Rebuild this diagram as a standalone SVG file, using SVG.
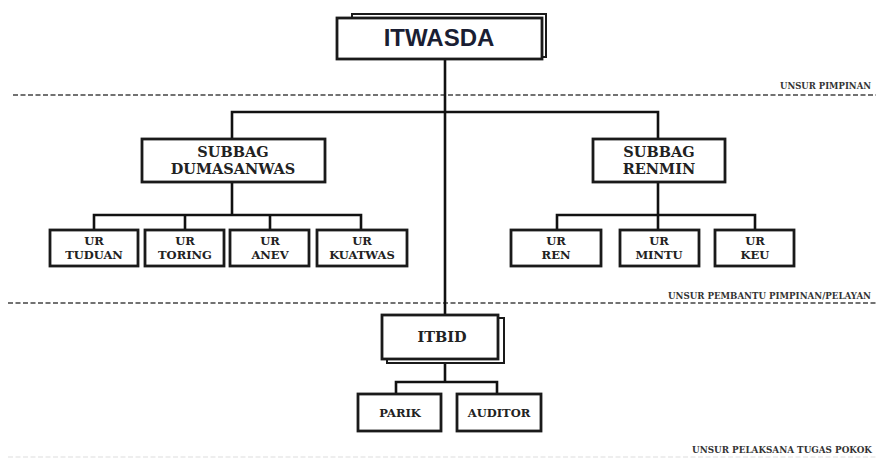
<svg xmlns="http://www.w3.org/2000/svg" width="876" height="459" viewBox="0 0 876 459">
<style>
.box{fill:#fff;stroke:#1a1a1a;stroke-width:2.8}
.shadow{fill:#fff;stroke:#1a1a1a;stroke-width:2}
.ln{fill:none;stroke:#111;stroke-width:2.6}
.dash{fill:none;stroke:#444;stroke-width:1.6;stroke-dasharray:5 2.5}
.t{font-family:"DejaVu Serif","Liberation Serif",serif;font-weight:bold;fill:#222;text-anchor:middle}
.big{font-size:14.5px}
.ur{font-size:11.5px}
.lab{font-family:"DejaVu Serif","Liberation Serif",serif;font-weight:bold;fill:#333;font-size:9px}
</style>
<rect width="876" height="459" fill="#fff"/>
<g id="separators">
<line class="dash" x1="13" y1="95" x2="876" y2="95"/>
<line class="dash" x1="8" y1="303" x2="876" y2="303"/>
<line x1="8" y1="457" x2="876" y2="457" stroke="#ddd" stroke-width="1.2" stroke-dasharray="5 2.5"/>
<text class="lab" x="780" y="89" textLength="91" lengthAdjust="spacingAndGlyphs">UNSUR PIMPINAN</text>
<text class="lab" x="668" y="299" font-size="8.4" textLength="203" lengthAdjust="spacingAndGlyphs" style="font-size:8.4px">UNSUR  PEMBANTU PIMPINAN/PELAYAN</text>
<text class="lab" x="692" y="453" textLength="180" lengthAdjust="spacingAndGlyphs">UNSUR PELAKSANA TUGAS POKOK</text>
</g>
<g id="connectors">
<line class="ln" x1="445" y1="59" x2="445" y2="315"/>
<polyline class="ln" points="232,139 232,112 658,112 658,139"/>
<line class="ln" x1="232" y1="182" x2="232" y2="215"/>
<polyline class="ln" points="94,230 94,215 361,215 361,230"/>
<line class="ln" x1="185" y1="215" x2="185" y2="230"/>
<line class="ln" x1="270" y1="215" x2="270" y2="230"/>
<line class="ln" x1="658" y1="182" x2="658" y2="230"/>
<polyline class="ln" points="557,230 557,215 755,215 755,230"/>
<line class="ln" x1="445" y1="363" x2="445" y2="382"/>
<polyline class="ln" points="396,394 396,382 497,382 497,394"/>
</g>
<g id="itwasda">
<rect class="shadow" x="352" y="14" width="194" height="43"/>
<rect class="box" x="337" y="18" width="205" height="41"/>
<text x="439" y="46" font-family="'Liberation Sans',Arial,sans-serif" font-weight="bold" font-size="24" fill="#1a1e33" text-anchor="middle">ITWASDA</text>
</g>
<g id="subbag-dumasanwas">
<rect class="box" x="142" y="139" width="183" height="43"/>
<text class="t big" x="233" y="157">SUBBAG</text>
<text class="t big" x="233" y="174">DUMASANWAS</text>
</g>
<g id="subbag-renmin">
<rect class="box" x="593" y="139" width="132" height="43"/>
<text class="t big" x="659" y="157">SUBBAG</text>
<text class="t big" x="659" y="174">RENMIN</text>
</g>
<g id="ur-tuduan">
<rect class="box" x="50" y="230" width="88" height="36"/>
<text class="t ur" x="94" y="245">UR</text>
<text class="t ur" x="94" y="259">TUDUAN</text>
</g>
<g id="ur-toring">
<rect class="box" x="145" y="230" width="79" height="36"/>
<text class="t ur" x="185" y="245">UR</text>
<text class="t ur" x="185" y="259">TORING</text>
</g>
<g id="ur-anev">
<rect class="box" x="230" y="230" width="79" height="36"/>
<text class="t ur" x="270" y="245">UR</text>
<text class="t ur" x="270" y="259">ANEV</text>
</g>
<g id="ur-kuatwas">
<rect class="box" x="317" y="230" width="90" height="36"/>
<text class="t ur" x="362" y="245">UR</text>
<text class="t ur" x="362" y="259">KUATWAS</text>
</g>
<g id="ur-ren">
<rect class="box" x="511" y="230" width="90" height="36"/>
<text class="t ur" x="556" y="245">UR</text>
<text class="t ur" x="556" y="259">REN</text>
</g>
<g id="ur-mintu">
<rect class="box" x="620" y="230" width="79" height="36"/>
<text class="t ur" x="659" y="245">UR</text>
<text class="t ur" x="659" y="259">MINTU</text>
</g>
<g id="ur-keu">
<rect class="box" x="715" y="230" width="79" height="36"/>
<text class="t ur" x="755" y="245">UR</text>
<text class="t ur" x="755" y="259">KEU</text>
</g>
<g id="itbid">
<rect class="shadow" x="387" y="318" width="117" height="45"/>
<rect class="box" x="382" y="315" width="116" height="44"/>
<text class="t big" x="442" y="342">ITBID</text>
</g>
<g id="parik">
<rect class="box" x="358" y="394" width="83" height="37"/>
<text class="t ur" x="400" y="417">PARIK</text>
</g>
<g id="auditor">
<rect class="box" x="457" y="394" width="84" height="37"/>
<text class="t ur" x="499" y="417">AUDITOR</text>
</g>
</svg>
